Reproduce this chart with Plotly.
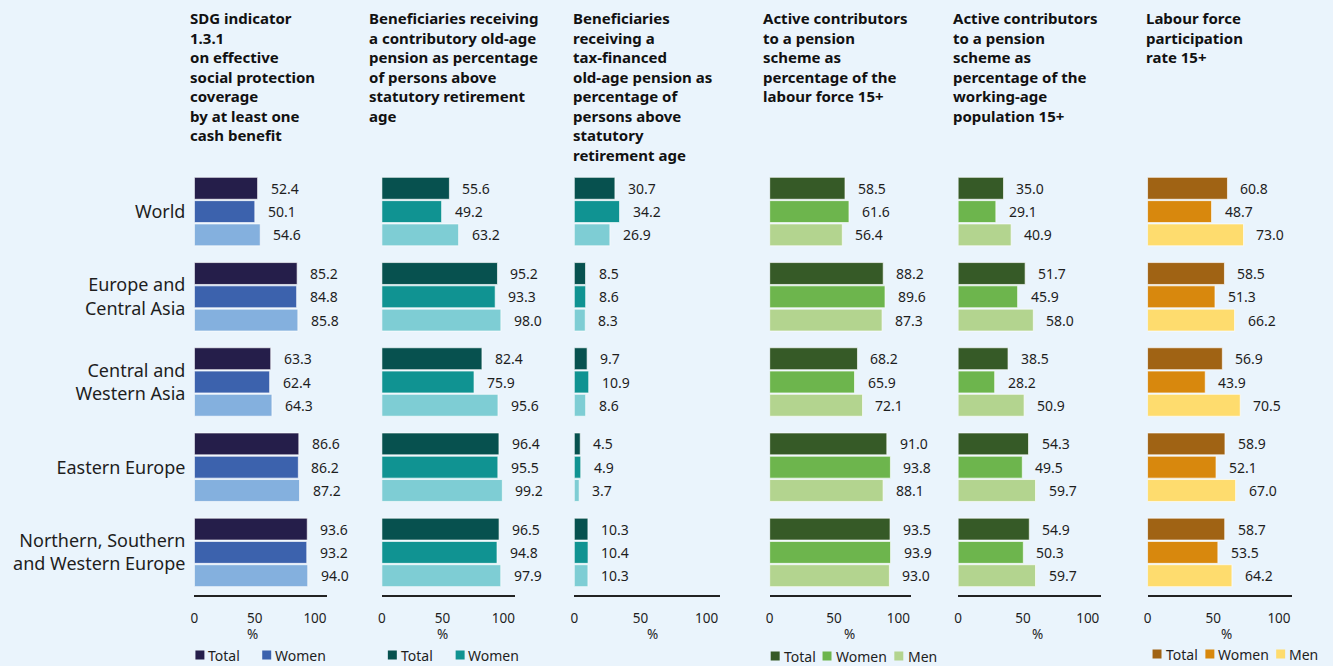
import plotly.graph_objects as go

# ---- data -----------------------------------------------------------------
regions = [
    "World",
    "Europe and<br>Central Asia",
    "Central and<br>Western Asia",
    "Eastern Europe",
    "Northern, Southern<br>and Western Europe",
]
series_names = ["Total", "Women", "Men"]

sdg_total = [52.4, 85.2, 63.3, 86.6, 93.6]
sdg_women = [50.1, 84.8, 62.4, 86.2, 93.2]
sdg_men = [54.6, 85.8, 64.3, 87.2, 94.0]

contrib_pension_total = [55.6, 95.2, 82.4, 96.4, 96.5]
contrib_pension_women = [49.2, 93.3, 75.9, 95.5, 94.8]
contrib_pension_men = [63.2, 98.0, 95.6, 99.2, 97.9]

tax_pension_total = [30.7, 8.5, 9.7, 4.5, 10.3]
tax_pension_women = [34.2, 8.6, 10.9, 4.9, 10.4]
tax_pension_men = [26.9, 8.3, 8.6, 3.7, 10.3]

active_lf_total = [58.5, 88.2, 68.2, 91.0, 93.5]
active_lf_women = [61.6, 89.6, 65.9, 93.8, 93.9]
active_lf_men = [56.4, 87.3, 72.1, 88.1, 93.0]

active_wap_total = [35.0, 51.7, 38.5, 54.3, 54.9]
active_wap_women = [29.1, 45.9, 28.2, 49.5, 50.3]
active_wap_men = [40.9, 58.0, 50.9, 59.7, 59.7]

lfpr_total = [60.8, 58.5, 56.9, 58.9, 58.7]
lfpr_women = [48.7, 51.3, 43.9, 52.1, 53.5]
lfpr_men = [73.0, 66.2, 70.5, 67.0, 64.2]

panel_titles = [
    ["SDG indicator", "1.3.1", "on effective", "social protection",
     "coverage", "by at least one", "cash benefit"],
    ["Beneficiaries receiving", "a contributory old-age", "pension as percentage",
     "of persons above", "statutory retirement", "age"],
    ["Beneficiaries", "receiving a", "tax-financed", "old-age pension as",
     "percentage of", "persons above", "statutory", "retirement age"],
    ["Active contributors", "to a pension", "scheme as", "percentage of the",
     "labour force 15+"],
    ["Active contributors", "to a pension", "scheme as", "percentage of the",
     "working-age", "population 15+"],
    ["Labour force", "participation", "rate 15+"],
]
x_ticks = [0, 50, 100]

panel_values = [
    [sdg_total, sdg_women, sdg_men],
    [contrib_pension_total, contrib_pension_women, contrib_pension_men],
    [tax_pension_total, tax_pension_women, tax_pension_men],
    [active_lf_total, active_lf_women, active_lf_men],
    [active_wap_total, active_wap_women, active_wap_men],
    [lfpr_total, lfpr_women, lfpr_men],
]

# ---- styling ----------------------------------------------------------------
W, H = 1333, 666
BG = "#EAF4FC"
INK = "#1E1E1E"
FONT = "Noto Sans"

palettes = [
    ["#251E4A", "#3C62AD", "#84B0DE"],
    ["#07514F", "#109392", "#7ECDD4"],
    ["#07514F", "#109392", "#7ECDD4"],
    ["#365A27", "#6DB54D", "#B3D48F"],
    ["#365A27", "#6DB54D", "#B3D48F"],
    ["#A06314", "#D8880D", "#FEDC6E"],
]

# panel x extents in pixels (axis line start / end)
panel_px = [(191, 324), (379, 513), (572, 718), (768, 910), (957, 1100), (1147, 1292)]
title_px = [185, 364, 569, 759, 950, 1143]
pct_px = [249, 440, 650, 848, 1037, 1226]
TITLE_TOP = 6        # top edge of the title block

plot_top, plot_bottom = 169, 595
y_domain = [1 - plot_bottom / H, 1 - plot_top / H]
BARGAP = 0.18
BARGROUPGAP = 0.06
X_MAX = 110

# vertical pixel distance between neighbouring bars inside one group
cat_px = (plot_bottom - plot_top) / len(regions)
slot_px = cat_px * (1 - BARGAP) / len(series_names)

fig = go.Figure()
annotations = []
shapes = []

for p, (values, colors) in enumerate(zip(panel_values, palettes)):
    ax = "" if p == 0 else str(p + 1)
    for k, (name, vals, col) in enumerate(zip(series_names, values, colors)):
        fig.add_trace(go.Bar(
            x=vals, y=regions, orientation="h", name=name,
            marker=dict(color=col, line=dict(color="rgba(255,255,255,0.65)", width=1)),
            xaxis="x" + ax, yaxis="y" + ax, showlegend=False,
            hoverinfo="x+name",
        ))
        for v, r in zip(vals, regions):
            annotations.append(dict(
                x=v, y=r, xref="x" + ax, yref="y" + ax,
                text=f"{v:.1f}", showarrow=False, xanchor="left",
                xshift=11, yshift=(1 - k) * slot_px,
                font=dict(family=FONT, size=14, color=INK),
            ))

    x0, x1 = panel_px[p]
    fig.layout["xaxis" + ax] = dict(
        domain=[x0 / W, x1 / W], range=[0, X_MAX], anchor="y" + ax,
        tickvals=x_ticks, ticks="", showgrid=False, zeroline=False,
        showline=True, linecolor="#222222", linewidth=2,
        ticklabelstandoff=10,
        tickfont=dict(family=FONT, size=13.5, color=INK),
    )
    fig.layout["yaxis" + ax] = dict(
        domain=y_domain, anchor="x" + ax, type="category",
        range=[len(regions) - 0.5, -0.5], showgrid=False, zeroline=False,
        showline=False, ticks="", showticklabels=(p == 0),
        ticklabelstandoff=8,
        tickfont=dict(family=FONT, size=18, color=INK),
    )

    annotations.append(dict(
        x=title_px[p] / W, y=1 - TITLE_TOP / H,
        xref="paper", yref="paper",
        text="<b>" + "<br>".join(panel_titles[p]) + "</b>", showarrow=False,
        xanchor="left", yanchor="top", align="left",
        font=dict(family=FONT, size=15, color="#111111"),
    ))
    annotations.append(dict(
        x=pct_px[p] / W, y=1 - 634 / H, xref="paper", yref="paper",
        text="%", showarrow=False, xanchor="center", yanchor="middle",
        font=dict(family=FONT, size=13.5, color=INK),
    ))

# legend keys: (panel, [(swatch_left_px, text_left_px), ...], centre_y_px)
legend_keys = [
    (0, [(192, 203), (259, 270)], 655),
    (1, [(385, 396), (453, 463)], 655),
    (3, [(769, 780), (821, 832), (893, 905)], 656),
    (5, [(1152, 1163), (1205, 1216), (1276, 1287)], 654),
]
SW = 9
for p, items, cy in legend_keys:
    for k, (sx, tx) in enumerate(items):
        shapes.append(dict(
            type="rect", xref="paper", yref="paper",
            x0=sx / W, x1=(sx + SW) / W,
            y0=1 - (cy + SW / 2) / H, y1=1 - (cy - SW / 2) / H,
            fillcolor=palettes[p][k], line=dict(width=0),
        ))
        annotations.append(dict(
            x=tx / W, y=1 - cy / H, xref="paper", yref="paper",
            text=series_names[k], showarrow=False,
            xanchor="left", yanchor="middle",
            font=dict(family=FONT, size=14, color=INK),
        ))

fig.update_layout(
    width=W, height=H, autosize=False,
    margin=dict(l=0, r=0, t=0, b=0),
    paper_bgcolor=BG, plot_bgcolor=BG,
    barmode="group", bargap=BARGAP, bargroupgap=BARGROUPGAP,
    annotations=annotations, shapes=shapes,
    font=dict(family=FONT, color=INK),
    showlegend=False,
)

fig.write_html("out.html")
